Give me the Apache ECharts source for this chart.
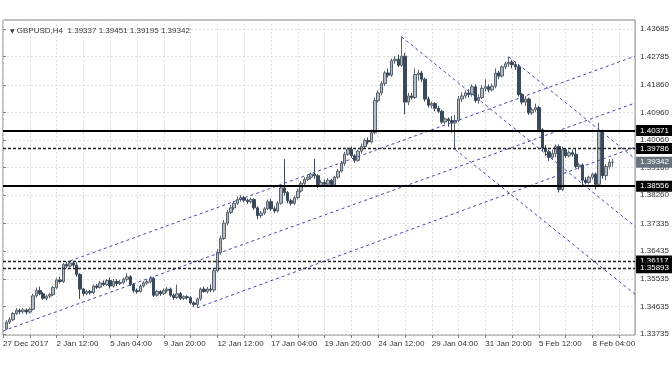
<!DOCTYPE html>
<html><head><meta charset="utf-8">
<script src="https://cdn.jsdelivr.net/npm/echarts@6/dist/echarts.min.js"></script>
<style>html,body{margin:0;padding:0;background:#fff}#c{width:672px;height:372px}</style>
</head><body><div id="c"></div>
<script>
// ---- data ----
const symbolName = 'GBPUSD,H4';
const lastQuote = ['1.39337', '1.39451', '1.39195', '1.39342'];
const timeLabels = ['27 Dec 2017', '2 Jan 12:00', '5 Jan 04:00', '9 Jan 20:00', '12 Jan 12:00', '17 Jan 04:00',
  '19 Jan 20:00', '24 Jan 12:00', '29 Jan 04:00', '31 Jan 20:00', '5 Feb 12:00', '8 Feb 04:00'];
const barsPerLabel = 16;
const barsPerGrid = 8;
const priceTicks = [1.43685, 1.42785, 1.41860, 1.40960, 1.40060, 1.39160, 1.38260, 1.37335, 1.36435, 1.35535, 1.34635, 1.33735];
const firstBar = 1;
// [open, close, low, high] per H4 bar
const ohlc = [
[1.3390,1.3412,1.3386,1.3418],[1.3412,1.3420,1.3405,1.3428],[1.3420,1.3440,1.3415,1.3445],[1.3440,1.3450,1.3436,1.3458],
[1.3450,1.3446,1.3438,1.3456],[1.3446,1.3452,1.3440,1.3458],[1.3452,1.3445,1.3437,1.3457],[1.3445,1.3454,1.3440,1.3460],
[1.3454,1.3498,1.3450,1.3505],[1.3498,1.3515,1.3492,1.3525],[1.3515,1.3505,1.3500,1.3528],[1.3505,1.3490,1.3485,1.3510],
[1.3490,1.3497,1.3484,1.3502],[1.3497,1.3502,1.3490,1.3508],[1.3502,1.3525,1.3497,1.3530],[1.3525,1.3550,1.3520,1.3555],
[1.3550,1.3545,1.3538,1.3560],[1.3545,1.3600,1.3540,1.3605],[1.3600,1.3595,1.3588,1.3608],[1.3595,1.3605,1.3590,1.36117],
[1.3605,1.3598,1.3590,1.3611],[1.3598,1.3568,1.3560,1.3608],[1.3568,1.3520,1.3488,1.3572],[1.3520,1.3505,1.3498,1.3524],
[1.3505,1.3512,1.3500,1.3518],[1.3512,1.3508,1.3502,1.3517],[1.3508,1.3530,1.3505,1.3535],[1.3530,1.3526,1.3520,1.3537],
[1.3526,1.3540,1.3522,1.3546],[1.3540,1.3535,1.3530,1.3548],[1.3535,1.3548,1.3530,1.3553],[1.3548,1.3530,1.3522,1.3558],
[1.3530,1.3545,1.3525,1.3553],[1.3545,1.3538,1.3530,1.3553],[1.3538,1.3542,1.3533,1.3550],[1.3542,1.3552,1.3536,1.3558],
[1.3552,1.3560,1.3545,1.3572],[1.3560,1.3535,1.3530,1.3565],[1.3535,1.3515,1.3508,1.3540],[1.3515,1.3512,1.3505,1.3522],
[1.3512,1.3530,1.3508,1.3535],[1.3530,1.3540,1.3525,1.3546],[1.3540,1.3544,1.3533,1.3550],[1.3544,1.3555,1.3538,1.3562],
[1.3555,1.3500,1.3494,1.3560],[1.3500,1.3512,1.3495,1.3518],[1.3512,1.3505,1.3498,1.3516],[1.3505,1.3515,1.3500,1.3522],
[1.3515,1.3520,1.3508,1.3527],[1.3520,1.3500,1.3495,1.3525],[1.3500,1.3493,1.3485,1.3506],[1.3493,1.3505,1.3488,1.3535],
[1.3505,1.3490,1.3484,1.3510],[1.3490,1.3495,1.3484,1.3500],[1.3495,1.3492,1.3486,1.3500],[1.3492,1.3475,1.3470,1.3497],
[1.3475,1.3470,1.3462,1.3480],[1.3470,1.3488,1.3459,1.3492],[1.3488,1.3520,1.3482,1.3525],[1.3520,1.3512,1.3508,1.3528],
[1.3512,1.3520,1.3506,1.3527],[1.3520,1.3517,1.3510,1.3535],[1.3517,1.3580,1.3510,1.3588],[1.3580,1.3640,1.3575,1.3650],
[1.3640,1.3685,1.3632,1.3695],[1.3685,1.3735,1.3680,1.3745],[1.3735,1.3770,1.3728,1.3778],[1.3770,1.3785,1.3765,1.3795],
[1.3785,1.3800,1.3778,1.3808],[1.3800,1.3812,1.3795,1.3822],[1.3812,1.3818,1.3805,1.3826],[1.3818,1.3810,1.3803,1.3824],
[1.3810,1.3805,1.3798,1.3815],[1.3805,1.3812,1.3800,1.3818],[1.3812,1.3785,1.3778,1.3816],[1.3785,1.3760,1.3748,1.3790],
[1.3760,1.3768,1.3752,1.3775],[1.3768,1.3782,1.3762,1.3788],[1.3782,1.3805,1.3778,1.3812],[1.3805,1.3782,1.3775,1.3815],
[1.3782,1.3775,1.3768,1.3790],[1.3775,1.3800,1.3770,1.3808],[1.3800,1.3850,1.3795,1.3855],[1.3850,1.3835,1.3825,1.3944],
[1.3835,1.3808,1.3800,1.3840],[1.3808,1.3800,1.3792,1.3815],[1.3800,1.3818,1.3795,1.3825],[1.3818,1.3840,1.3812,1.3848],
[1.3840,1.3865,1.3835,1.3872],[1.3865,1.3878,1.3858,1.3885],[1.3878,1.3885,1.3872,1.3892],[1.3885,1.3895,1.3878,1.3900],
[1.3895,1.3890,1.3880,1.3945],[1.3890,1.3858,1.3850,1.3895],[1.3858,1.3868,1.3852,1.3875],[1.3868,1.3862,1.3855,1.3878],
[1.3862,1.3875,1.3855,1.3882],[1.3875,1.3860,1.3854,1.3880],[1.3860,1.3885,1.3857,1.3890],[1.3885,1.3905,1.3880,1.3912],
[1.3905,1.3930,1.3900,1.3938],[1.3930,1.3960,1.3922,1.3968],[1.3960,1.3975,1.3955,1.3982],[1.3975,1.3955,1.3948,1.3985],
[1.3955,1.3940,1.3932,1.3960],[1.3940,1.3970,1.3935,1.3975],[1.3970,1.3985,1.3962,1.3995],[1.3985,1.4005,1.3980,1.4012],
[1.4005,1.4000,1.3992,1.4015],[1.4000,1.4030,1.3995,1.4040],[1.4030,1.4135,1.4025,1.4145],[1.4135,1.4160,1.4128,1.4168],
[1.4160,1.4190,1.4152,1.4198],[1.4190,1.4225,1.4182,1.4232],[1.4225,1.4218,1.4210,1.4240],[1.4218,1.4265,1.4212,1.4272],
[1.4265,1.4270,1.4255,1.4280],[1.4270,1.4250,1.4245,1.4285],[1.4250,1.4280,1.4245,1.4343],[1.4280,1.4130,1.4090,1.4290],
[1.4130,1.4150,1.4120,1.4160],[1.4150,1.4145,1.4138,1.4160],[1.4145,1.4220,1.4140,1.4240],[1.4220,1.4225,1.4200,1.4235],
[1.4225,1.4205,1.4195,1.4232],[1.4205,1.4140,1.4132,1.4210],[1.4140,1.4120,1.4112,1.4148],[1.4120,1.4125,1.4110,1.4132],
[1.4125,1.4110,1.4100,1.4130],[1.4110,1.4100,1.4095,1.4118],[1.4100,1.4065,1.4060,1.4105],[1.4065,1.4075,1.4058,1.4080],
[1.4075,1.4070,1.4050,1.4080],[1.4070,1.4062,1.4030,1.4085],[1.4062,1.4070,1.3975,1.4088],[1.4070,1.4140,1.4065,1.4150],
[1.4140,1.4150,1.4130,1.4162],[1.4150,1.4160,1.4142,1.4168],[1.4160,1.4155,1.4145,1.4172],[1.4155,1.4180,1.4148,1.4188],
[1.4180,1.4135,1.4128,1.4188],[1.4135,1.4145,1.4125,1.4155],[1.4145,1.4175,1.4140,1.4185],[1.4175,1.4180,1.4165,1.4205],
[1.4180,1.4170,1.4162,1.4188],[1.4170,1.4182,1.4165,1.4190],[1.4182,1.4225,1.4175,1.4240],[1.4225,1.4215,1.4205,1.4232],
[1.4215,1.4245,1.4210,1.4250],[1.4245,1.4255,1.4238,1.4262],[1.4255,1.4260,1.4245,1.4278],[1.4260,1.4252,1.4240,1.4268],
[1.4252,1.4245,1.4235,1.4262],[1.4245,1.4155,1.4148,1.4252],[1.4155,1.4130,1.4122,1.4160],[1.4130,1.4140,1.4118,1.4150],
[1.4140,1.4095,1.4088,1.4145],[1.4095,1.4105,1.4088,1.4112],[1.4105,1.4112,1.4098,1.4125],[1.4112,1.4040,1.4035,1.4118],
[1.4040,1.3980,1.3970,1.4045],[1.3980,1.3968,1.3955,1.3990],[1.3968,1.3950,1.3938,1.3975],[1.3950,1.3962,1.3945,1.3975],
[1.3962,1.3985,1.3950,1.3992],[1.3985,1.3845,1.3835,1.3992],[1.3845,1.3975,1.3840,1.3985],[1.3975,1.3955,1.3948,1.3980],
[1.3955,1.3965,1.3950,1.3972],[1.3965,1.3960,1.3952,1.3975],[1.3960,1.3920,1.3915,1.3978],[1.3920,1.3925,1.3910,1.3932],
[1.3925,1.3875,1.3858,1.3930],[1.3875,1.3868,1.3862,1.3885],[1.3868,1.3885,1.3862,1.3890],[1.3885,1.3895,1.3878,1.3900],
[1.3895,1.3862,1.3845,1.3900],[1.3862,1.4035,1.3858,1.4063],[1.4035,1.3890,1.3880,1.4040],[1.3890,1.3920,1.3875,1.3928],
[1.3920,1.39337,1.3912,1.3945],[1.39337,1.39342,1.39195,1.39451]
];
const solidLevels = [1.40371, 1.38556];
const dashedLevels = [1.39786, 1.36117, 1.35893];
const currentPrice = 1.39342;
// trend lines: [[bar, price], [bar, price]]
const trendLines = [
  [[20, 1.36117], [188.7, 1.4280]],
  [[0, 1.33834], [188.7, 1.4127]],
  [[58, 1.3459], [188.7, 1.3983]],
  [[119, 1.4343], [188.7, 1.3724]],
  [[135, 1.3975], [188.7, 1.3503]],
  [[151, 1.4278], [188.7, 1.3945]]
];

// ---- chart ----
const FONT = 'Liberation Sans, Arial, sans-serif';
const xMax = 188.7;
const labelBars = timeLabels.map((_, i) => i * barsPerLabel);
const gridBars = [];
for (let b = 0; b <= xMax; b += barsPerGrid) gridBars.push(b);

const levelLabel = (bg) => ({
  show: true, position: 'end', distance: 1,
  formatter: p => Number(p.value).toFixed(5),
  backgroundColor: bg, color: '#fff', fontSize: 8, fontFamily: FONT,
  padding: [2, 5, 1, 4]
});
const markData = [];
solidLevels.forEach(v => markData.push({ yAxis: v, lineStyle: { color: '#000', width: 2, type: 'solid' }, label: levelLabel('#000') }));
dashedLevels.forEach(v => markData.push({ yAxis: v, lineStyle: { color: '#222', width: 1.4, type: [3, 2] }, label: levelLabel('#000') }));
markData.push({ yAxis: currentPrice, lineStyle: { color: 'rgba(0,0,0,0)', width: 1 }, label: levelLabel('#66717c') });

const chart = echarts.init(document.getElementById('c'), null, { renderer: 'canvas' });
chart.setOption({
  animation: false,
  backgroundColor: '#fff',
  title: {
    text: '{t|▼} ' + symbolName + '  ' + lastQuote.join(' '),
    left: 5, top: 22,
    textStyle: { fontSize: 8, color: '#3a3a3a', fontWeight: 'normal', fontFamily: FONT,
      rich: { t: { fontSize: 6, color: '#3a3a3a', fontFamily: 'DejaVu Sans' } } }
  },
  grid: { left: 3, right: 36, top: 20, bottom: 37, show: true, borderColor: '#808080', borderWidth: 1, backgroundColor: '#fff' },
  xAxis: {
    type: 'value', min: 0, max: xMax,
    axisLine: { show: false },
    axisTick: { show: true, length: 3, lineStyle: { color: '#808080' }, customValues: gridBars },
    axisLabel: { customValues: labelBars, align: 'left', margin: 5, fontSize: 8, color: '#333', fontFamily: FONT,
      formatter: v => timeLabels[Math.round(v / barsPerLabel)] },
    splitLine: { show: true, lineStyle: { color: '#dedede', type: [2, 2], width: 1 } }
  },
  yAxis: {
    type: 'value', position: 'right', min: 1.33702, max: 1.43979,
    axisLine: { show: false },
    axisTick: { show: true, length: 3, lineStyle: { color: '#808080' }, customValues: priceTicks },
    axisLabel: { customValues: priceTicks, margin: 5, fontSize: 8, color: '#333', fontFamily: FONT,
      formatter: v => v.toFixed(5) },
    splitLine: { show: true, lineStyle: { color: '#dedede', type: [2, 2], width: 1 } }
  },
  series: [
    {
      type: 'candlestick',
      dimensions: ['bar', 'open', 'close', 'lowest', 'highest'],
      encode: { x: 'bar', y: ['open', 'close', 'lowest', 'highest'] },
      data: ohlc.map((r, i) => [firstBar + i, r[0], r[1], r[2], r[3]]),
      barWidth: 3,
      itemStyle: { color: '#b3bac2', borderColor: '#58636e', color0: '#3a4959', borderColor0: '#3a4959', borderWidth: 1 },
      silent: true,
      z: 2,
      markLine: { symbol: 'none', silent: true, animation: false, precision: 5, data: markData }
    },
    ...trendLines.map(seg => ({
      type: 'line', data: seg, showSymbol: false, symbol: 'none', silent: true, z: 3,
      lineStyle: { color: '#4646b0', width: 1, type: [3, 3] }
    }))
  ]
});
</script>
</body></html>
